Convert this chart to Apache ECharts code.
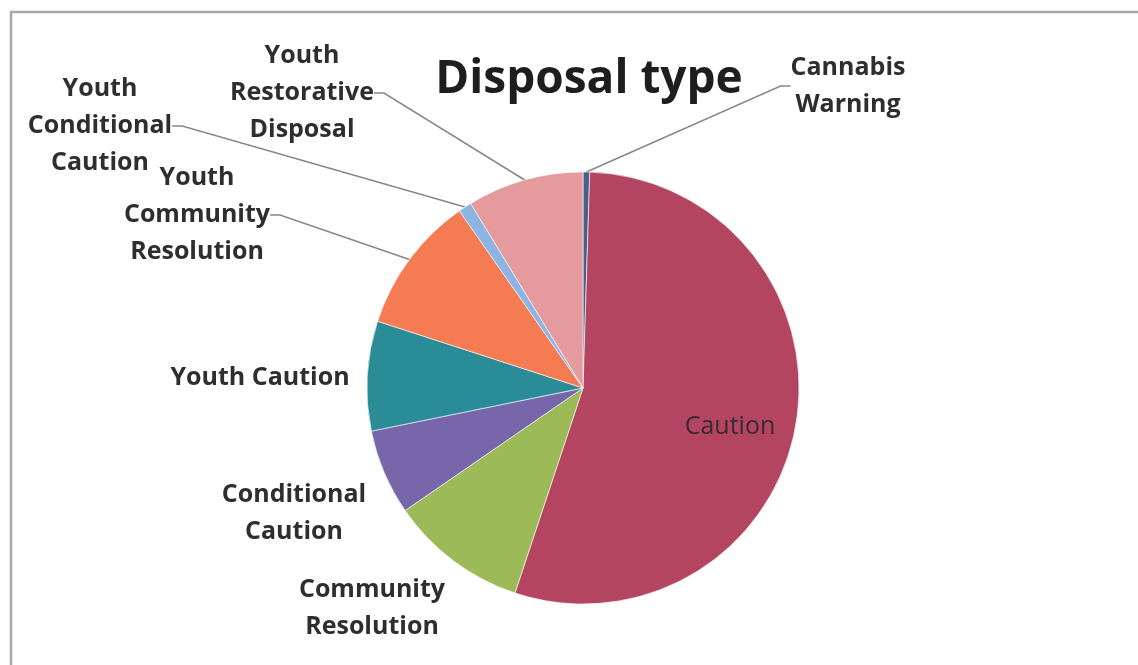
<!DOCTYPE html>
<html>
<head>
<meta charset="utf-8">
<script src="https://cdn.jsdelivr.net/npm/echarts@6/dist/echarts.min.js"></script>
<style>
html,body{margin:0;padding:0;background:#fff;}
#chart{width:1138px;height:665px;}
</style>
</head>
<body>
<div id="chart"></div>
<script>
// Data (share of disposals, per mille)
const categories = ['Cannabis Warning', 'Caution', 'Community Resolution', 'Conditional Caution',
  'Youth Caution', 'Youth Community Resolution', 'Youth Conditional Caution', 'Youth Restorative Disposal'];
const values = [5, 546, 103, 64, 82, 103, 10, 87];
const labelTexts = ['Cannabis\nWarning', 'Caution', 'Community\nResolution', 'Conditional\nCaution',
  'Youth Caution', 'Youth\nCommunity\nResolution', 'Youth\nConditional\nCaution', 'Youth\nRestorative\nDisposal'];
const titleText = 'Disposal type';

// styling (kept separate from the data)
const colors = ['#4A5F8A', '#B44560', '#9CBB58', '#7866AA', '#2A8C96', '#F57B52', '#8EB4E3', '#E59A9E'];
const labelCenters = [[848, 86], [730, 427], [372, 608], [294, 513], [260, 378], [197, 215], [100, 126], [302, 93]];
const showLine = [true, false, false, false, false, true, true, true];

const chart = echarts.init(document.getElementById('chart'), null, {renderer: 'canvas'});
const data = categories.map((c, i) => {
  const item = {
    name: c,
    value: values[i],
    itemStyle: {color: colors[i]},
    labelLine: {show: showLine[i]}
  };
  if (c === 'Caution') {
    item.label = {fontWeight: 'normal', color: '#3a2a30', fontSize: 25};
  }
  return item;
});

chart.setOption({
  animation: false,
  title: {
    text: titleText,
    left: 584, top: 75,
    textAlign: 'center', textVerticalAlign: 'middle',
    textStyle: {fontFamily: 'Open Sans', fontWeight: 'bold', fontSize: 46, color: '#1e1e1e'}
  },
  graphic: [
    {type: 'line', shape: {x1: 10, y1: 12, x2: 1138, y2: 12}, style: {stroke: '#a8a8a8', lineWidth: 2.5}},
    {type: 'line', shape: {x1: 11, y1: 12, x2: 11, y2: 665}, style: {stroke: '#a8a8a8', lineWidth: 2.5}}
  ],
  series: [{
    type: 'pie',
    center: [583, 388],
    radius: 216,
    startAngle: 90,
    clockwise: true,
    data: data,
    itemStyle: {borderColor: 'rgba(255,255,255,0.6)', borderWidth: 1},
    label: {
      show: true,
      formatter: p => labelTexts[p.dataIndex],
      fontFamily: 'Open Sans',
      fontWeight: 'bold',
      fontSize: 25,
      lineHeight: 37,
      color: '#2e2e2e',
      align: 'center'
    },
    labelLine: {
      length: 10, length2: 10,
      lineStyle: {color: '#888888', width: 1.6}
    },
    labelLayout: function (params) {
      const p = labelCenters[params.dataIndex];
      return {x: p[0], y: p[1], align: 'center', verticalAlign: 'middle'};
    },
    emphasis: {disabled: true}
  }]
});
</script>
</body>
</html>
